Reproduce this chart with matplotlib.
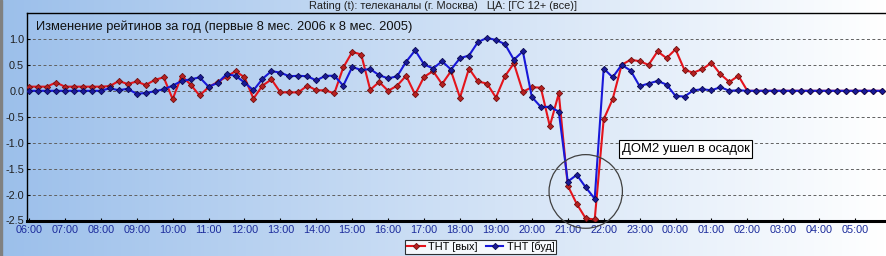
import numpy as np
import matplotlib
matplotlib.use("Agg")
import matplotlib.pyplot as plt
from matplotlib.patches import Ellipse, Rectangle

plt.rcParams['font.family'] = ['Liberation Sans', 'DejaVu Sans']

# hour labels along the x axis (one point every 15 minutes)
hours = ['06:00', '07:00', '08:00', '09:00', '10:00', '11:00', '12:00', '13:00',
         '14:00', '15:00', '16:00', '17:00', '18:00', '19:00', '20:00', '21:00',
         '22:00', '23:00', '00:00', '01:00', '02:00', '03:00', '04:00', '05:00']

# ТНТ [вых]
tnt_weekend = [0.08, 0.08, 0.08, 0.16, 0.08, 0.08, 0.08, 0.08, 0.08, 0.09,
               0.19, 0.13, 0.18, 0.11, 0.21, 0.26, -0.16, 0.29, 0.12, -0.09,
               0.07, 0.17, 0.27, 0.38, 0.26, -0.15, 0.10, 0.22, -0.03, -0.03,
               -0.03, 0.10, 0.01, 0.01, -0.05, 0.45, 0.75, 0.70, 0.02, 0.17,
               0.00, 0.10, 0.29, -0.07, 0.27, 0.38, 0.13, 0.38, -0.13, 0.43,
               0.18, 0.14, -0.13, 0.28, 0.53, -0.02, 0.07, 0.06, -0.68, -0.05,
               -1.83, -2.18, -2.46, -2.48, -0.55, -0.16, 0.50, 0.60, 0.57, 0.50,
               0.76, 0.63, 0.80, 0.40, 0.35, 0.42, 0.54, 0.32, 0.17, 0.29,
               0.00, 0.00, 0.00, 0.00, 0.00, 0.00, 0.00, 0.00, 0.00, 0.00,
               0.00, 0.00, 0.00, 0.00, 0.00, 0.00]

# ТНТ [буд]
tnt_weekday = [0.00, 0.00, 0.00, 0.00, 0.00, 0.00, 0.00, 0.00, 0.00, 0.05,
               0.01, 0.04, -0.06, -0.04, -0.01, 0.03, 0.10, 0.19, 0.22, 0.26,
               0.08, 0.15, 0.32, 0.29, 0.16, 0.01, 0.23, 0.38, 0.35, 0.28,
               0.29, 0.28, 0.20, 0.29, 0.29, 0.10, 0.46, 0.40, 0.42, 0.30,
               0.24, 0.28, 0.56, 0.78, 0.51, 0.43, 0.57, 0.41, 0.63, 0.68,
               0.94, 1.02, 0.98, 0.90, 0.60, 0.76, -0.12, -0.31, -0.31, -0.40,
               -1.75, -1.62, -1.86, -2.08, 0.43, 0.26, 0.50, 0.39, 0.09, 0.14,
               0.19, 0.12, -0.10, -0.11, 0.01, 0.03, 0.01, 0.07, 0.00, 0.01,
               0.00, 0.00, 0.00, 0.00, 0.00, 0.00, 0.00, 0.00, 0.00, 0.00,
               0.00, 0.00, 0.00, 0.00, 0.00, 0.00]

header = 'Rating (t): телеканалы (г. Москва)   ЦА: [ГС 12+ (все)]'
title = 'Изменение рейтинов за год (первые 8 мес. 2006 к 8 мес. 2005)'
note = 'ДОМ2 ушел в осадок'

fig = plt.figure(figsize=(8.87, 2.56), dpi=100)

# background gradient: light blue on the left fading to white
bg = fig.add_axes([0, 0, 1, 1], zorder=-5)
left_c = np.array([0.61, 0.75, 0.92])
right_c = np.array([1.0, 1.0, 1.0])
t = np.linspace(0, 1, 256)[None, :, None]
grad = left_c * (1 - t) + right_c * t
bg.imshow(grad, aspect='auto', extent=[0, 1, 0, 1])
bg.set_xlim(0, 1)
bg.set_ylim(0, 1)
bg.axis('off')
fig.patches.append(Rectangle((0, 0), 2 / 887, 1, transform=fig.transFigure,
                             color='#808080', zorder=10))

fig.text(0.50, 0.975, header, ha='center', va='center', fontsize=7.9, color='#202020')

ax = fig.add_axes([27 / 887, 1 - 220.5 / 256, 860 / 887, 207.5 / 256])
ax.set_facecolor('none')

x = np.arange(len(tnt_weekend))
ax.plot(x, tnt_weekend, color='#e4141c', lw=1.5, marker='D', ms=3.2,
        mfc='#b82020', mec='#701010', mew=0.6, label='ТНТ [вых]', zorder=3)
ax.plot(x, tnt_weekday, color='#1818d8', lw=1.5, marker='D', ms=3.2,
        mfc='#1a1a98', mec='#0a0a50', mew=0.6, label='ТНТ [буд]', zorder=4)

ax.set_xlim(-0.22, 95.55)
ax.set_ylim(-2.5, 1.5)
ax.set_yticks([1.0, 0.5, 0.0, -0.5, -1.0, -1.5, -2.0, -2.5])
ax.set_yticklabels(['1.0', '0.5', '0.0', '-0.5', '-1.0', '-1.5', '-2.0', '-2.5'])
ax.set_xticks(np.arange(0, len(x), 4))
ax.set_xticklabels(hours)
for y in [1.0, 0.5, 0.0, -0.5, -1.0, -1.5, -2.0]:
    ax.axhline(y, color='#606060', lw=0.7, ls=(0, (3, 2.5)), zorder=1)

ax.tick_params(axis='x', colors='black', labelcolor='#1c2c9c', labelsize=7.8,
               length=2, direction='in', pad=3)
ax.tick_params(axis='y', labelcolor='#202020', labelsize=7.8, length=2,
               direction='in', pad=2)
for s in ['top', 'left']:
    ax.spines[s].set_linewidth(1.0)
ax.spines['bottom'].set_linewidth(2.2)
ax.spines['right'].set_visible(False)

ax.text(0.01, 0.935, title, transform=ax.transAxes, ha='left', va='center',
        fontsize=9.3, color='#101010')

ax.text(66.0, -1.12, note, ha='left', va='center', fontsize=9.4, color='black',
        bbox=dict(boxstyle='square,pad=0.22', fc='white', ec='black', lw=0.8), zorder=6)
ax.add_patch(Ellipse((62.0, -1.94), 8.17, 1.42, fill=False, ec='#404040',
                     lw=0.9, clip_on=False, zorder=5))

leg = fig.legend(loc='center', bbox_to_anchor=(0.542, 0.035), ncol=2, fontsize=7.8,
                 frameon=True, fancybox=False, edgecolor='black', handlelength=1.6,
                 handletextpad=0.3, columnspacing=0.8, borderpad=0.2,
                 borderaxespad=0)
leg.get_frame().set_facecolor('white')
leg.get_frame().set_linewidth(0.8)

fig.savefig('out.png', dpi=100)
